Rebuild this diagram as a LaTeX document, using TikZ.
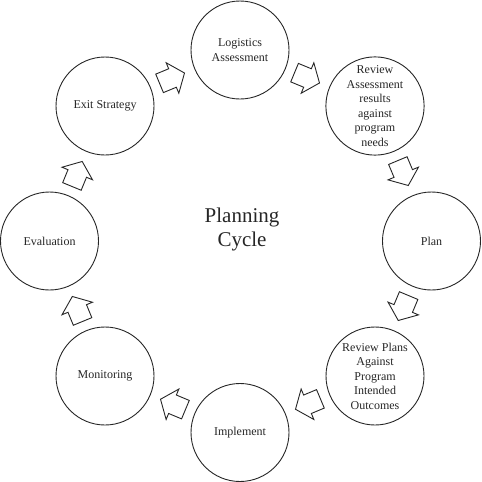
\documentclass[tikz,border=0pt]{standalone}
\usepackage{fontspec}
\setmainfont{Liberation Serif}
\usetikzlibrary{calc}
\tikzset{
  circ/.style={circle, draw=black!85, line width=0.9pt, minimum size=98pt, inner sep=0pt,
    align=center, font=\fontsize{12}{14.5}\selectfont, text=black!85},
  arrline/.style={draw=black!85, line width=0.9pt, fill=white, line join=miter},
  barrow/.pic={\draw[arrline] (-14,-10)--(0,-10)--(0,-16.5)--(13,0)--(0,16.5)--(0,10)--(-14,10)--cycle;}
}
\newcommand\cyclearrow[2]{\path let \p1=(#1), \p2=(#2), \n1={atan2(\y2-\y1,\x2-\x1)} in ($(\p1)!0.5!(\p2)$) pic[rotate=\n1] {barrow};}
\begin{document}
\begin{tikzpicture}[x=1pt,y=-1pt]
\useasboundingbox (0,0) rectangle (482,482);
\node[circ] (la) at (240,50) {Logistics\\Assessment};
\node[circ] (ra) at (375,106) {Review\\Assessment\\results\\against\\program\\needs};
\node[circ] (pl) at (431.5,241) {Plan};
\node[circ] (rp) at (375,376) {Review Plans\\Against\\Program\\Intended\\Outcomes};
\node[circ] (im) at (240,432.5) {Implement};
\node[circ] (mo) at (105,376) {Monitoring};
\node[circ] (ev) at (49.5,241) {Evaluation};
\node[circ] (ex) at (105,106) {Exit Strategy};
\node[align=center, font=\fontsize{21}{24}\selectfont, text=black!85] (title) at (242,229) {Planning\\Cycle};
\cyclearrow{ex}{la}
\cyclearrow{la}{ra}
\cyclearrow{ra}{pl}
\cyclearrow{pl}{rp}
\cyclearrow{rp}{im}
\cyclearrow{im}{mo}
\cyclearrow{mo}{ev}
\cyclearrow{ev}{ex}
\end{tikzpicture}
\end{document}
